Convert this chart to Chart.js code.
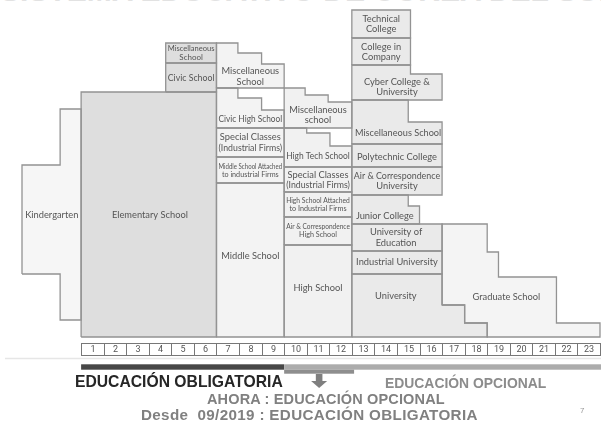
<!DOCTYPE html>
<html>
<head>
<meta charset="utf-8">
<script src="https://cdn.jsdelivr.net/npm/chart.js@4.4.1/dist/chart.umd.min.js"></script>
<style>
  body { margin: 0; background: #fff; }
  #wrap { position: relative; width: 601px; height: 423px; overflow: hidden; }
  canvas { position: absolute; left: 0; top: 0; }
  .cap { position: absolute; font-family: "Liberation Sans", Arial, sans-serif; font-weight: bold; white-space: nowrap; line-height: 1; }
</style>
</head>
<body>
<div id="wrap">
  <div class="cap" style="left:0;width:601px;text-align:center;top:-24px;font-size:30px;color:#e2e2e2">SISTEMA EDUCATIVO DE COREA DEL SUR</div>
  <canvas id="schoolChart" width="601" height="423"></canvas>
  <div class="cap" style="left:75px;top:374px;font-size:15.7px;color:#262626">EDUCACIÓN OBLIGATORIA</div>
  <div class="cap" style="left:385px;top:377px;font-size:13.9px;color:#8c8c8c">EDUCACIÓN OPCIONAL</div>
  <div class="cap" style="left:207px;top:392px;font-size:14.5px;letter-spacing:0.15px;color:#808080">AHORA : EDUCACIÓN OPCIONAL</div>
  <div class="cap" style="left:141px;top:406.5px;font-size:15.2px;letter-spacing:0.35px;color:#808080">Desde&nbsp; 09/2019 : EDUCACIÓN OBLIGATORIA</div>
  <div class="cap" style="left:580px;top:407px;font-size:8px;font-weight:normal;color:#999">7</div>
</div>
<script>
// school years shown in the bottom row
const grades = ['1', '2', '3', '4', '5', '6', '7', '8', '9', '10', '11', '12',
  '13', '14', '15', '16', '17', '18', '19', '20', '21', '22', '23'];

const schoolNames = [
  'Kindergarten', 'Elementary School', 'Miscellaneous\nSchool', 'Civic School',
  'Miscellaneous\nSchool', 'Civic High School', 'Special Classes\n(Industrial Firms)',
  'Middle School Attached\nto industrial Firms', 'Middle School',
  'Miscellaneous\nschool', 'High Tech School', 'Special Classes\n(Industrial Firms)',
  'High School Attached\nto Industrial Firms', 'Air & Correspondence\nHigh School', 'High School',
  'Technical\nCollege', 'College in\nCompany', 'Cyber College &\nUniversity',
  'Miscellaneous School', 'Polytechnic College', 'Air & Correspondence\nUniversity',
  'Junior College', 'University of\nEducation', 'Industrial University', 'University',
  'Graduate School'
];

const schoolStage = ['pre', 'elem', 'elem', 'elem',
  'mid', 'mid', 'mid', 'mid', 'mid',
  'high', 'high', 'high', 'high', 'high', 'high',
  'uni', 'uni', 'uni', 'uni', 'uni', 'uni', 'uni', 'uni', 'uni', 'uni',
  'grad'];

// outline of each block: [years after start of grade 1, height]
const schoolOutlines = [
  [[-2.62, 63], [-2.62, 172], [-0.93, 172], [-0.93, 228], [0, 228], [0, 17], [-0.93, 17], [-0.93, 63]],
  [[0, 0], [0, 245], [6, 245], [6, 0]],
  [[3.75, 274], [3.75, 294], [6, 294], [6, 274]],
  [[3.75, 245], [3.75, 274], [6, 274], [6, 245]],
  [[6, 249], [6, 294], [6.95, 294], [6.95, 284], [8, 284], [8, 273], [9, 273], [9, 249]],
  [[6, 209], [6, 249], [6.95, 249], [6.95, 239], [8, 239], [8, 227], [9, 227], [9, 209]],
  [[6, 180], [6, 209], [9, 209], [9, 180]],
  [[6, 154], [6, 180], [9, 180], [9, 154]],
  [[6, 0], [6, 154], [9, 154], [9, 0]],
  [[9, 209], [9, 249], [9.93, 249], [9.93, 242], [10.95, 242], [10.95, 235], [12, 235], [12, 209]],
  [[9, 170], [9, 209], [10, 209], [10, 204], [11.03, 204], [11.03, 191], [12, 191], [12, 170]],
  [[9, 145], [9, 170], [12, 170], [12, 145]],
  [[9, 120], [9, 145], [12, 145], [12, 120]],
  [[9, 92], [9, 120], [12, 120], [12, 92]],
  [[9, 0], [9, 92], [12, 92], [12, 0]],
  [[12, 299], [12, 327], [14.6, 327], [14.6, 299]],
  [[12, 272], [12, 299], [14.6, 299], [14.6, 272]],
  [[12, 237], [12, 272], [14.6, 272], [14.6, 263], [16, 263], [16, 237]],
  [[12, 193], [12, 237], [14.5, 237], [14.5, 215], [16, 215], [16, 193]],
  [[12, 170], [12, 193], [16, 193], [16, 170]],
  [[12, 142], [12, 170], [16, 170], [16, 142]],
  [[12, 113], [12, 142], [14.5, 142], [14.5, 131], [15, 131], [15, 113]],
  [[12, 86], [12, 113], [16, 113], [16, 86]],
  [[12, 63], [12, 86], [16, 86], [16, 63]],
  [[12, 0], [12, 63], [16, 63], [16, 32], [17, 32], [17, 14], [18, 14], [18, 0]],
  [[16, 32], [16, 113], [18, 113], [18, 85], [18.5, 85], [18.5, 60], [21.07, 60], [21.07, 14],
   [23, 14], [23, 0], [18, 0], [18, 14], [17, 14], [17, 32]]
];

// where each name sits inside its block
const labelAnchors = [
  [-1.3, 122], [3.05, 122], [4.875, 284], [4.875, 259.5],
  [7.5, 260.5], [7.5, 217.7], [7.5, 194.5], [7.5, 166], [7.5, 81],
  [10.5, 222], [10.5, 181.3], [10.5, 157], [10.5, 132], [10.5, 106.7], [10.5, 48.7],
  [13.3, 313], [13.3, 284.8], [14, 249.8], [14.05, 203.7], [14, 180.3], [14, 155.7],
  [13.46, 121], [13.96, 99.5], [14, 75.3], [13.95, 41],
  [18.85, 40.3]
];

// compulsory / optional spans under the year row
const compulsorySpan = [0, 9];
const optionalSpan = [9, 23];
const changedSpan = [9, 12.1];

const stageFill = { pre: '#f6f6f6', elem: '#dedede', mid: '#f3f3f3', high: '#f1f1f1', uni: '#eaeaea', grad: '#f4f4f4' };
const smallLabels = [7, 12, 13];

const blockLabels = {
  id: 'blockLabels',
  afterDatasetsDraw(chart) {
    const { ctx, scales: { x, y } } = chart;
    ctx.save();
    ctx.fillStyle = '#555';
    ctx.textAlign = 'center';
    ctx.textBaseline = 'middle';
    schoolNames.forEach((name, i) => {
      let size = 9.3;
      if (i === 2) size = 8;
      if (smallLabels.includes(i)) size = 7.2;
      ctx.font = size + 'px Lato';
      const xs = schoolOutlines[i].map(p => p[0]);
      const maxW = x.getPixelForValue(Math.max(...xs)) - x.getPixelForValue(Math.min(...xs)) - 4;
      const px = x.getPixelForValue(labelAnchors[i][0]);
      const py = y.getPixelForValue(labelAnchors[i][1]);
      const lines = name.split('\n');
      const lh = size * 1.1;
      lines.forEach((ln, k) => {
        ctx.fillText(ln, px, py + (k - (lines.length - 1) / 2) * lh, maxW);
      });
    });
    ctx.restore();
  }
};

const gradeRow = {
  id: 'gradeRow',
  afterDraw(chart) {
    const { ctx, scales: { x } } = chart;
    ctx.save();
    // faint rule under the year row
    ctx.strokeStyle = '#e6e6e6';
    ctx.lineWidth = 1.5;
    ctx.beginPath();
    ctx.moveTo(5, 358.5);
    ctx.lineTo(601, 358.5);
    ctx.stroke();

    ctx.strokeStyle = '#777';
    ctx.lineWidth = 1;
    ctx.fillStyle = '#555';
    ctx.font = '9px Roboto';
    ctx.textAlign = 'center';
    ctx.textBaseline = 'middle';
    grades.forEach((g, i) => {
      const l = Math.round(x.getPixelForValue(i)) + 0.5;
      const r = Math.round(x.getPixelForValue(i + 1)) + 0.5;
      ctx.strokeRect(l, 343.5, r - l, 12);
      ctx.fillText(g, (l + r) / 2, 350);
    });

    // bars
    ctx.fillStyle = '#474747';
    ctx.fillRect(x.getPixelForValue(compulsorySpan[0]), 364.3,
      x.getPixelForValue(compulsorySpan[1]) - x.getPixelForValue(compulsorySpan[0]), 5.4);
    ctx.fillStyle = '#acacac';
    ctx.fillRect(x.getPixelForValue(optionalSpan[0]), 364.3,
      x.getPixelForValue(optionalSpan[1]) - x.getPixelForValue(optionalSpan[0]) + 1, 5.4);
    ctx.fillStyle = '#8e8e8e';
    ctx.fillRect(x.getPixelForValue(changedSpan[0]), 369.7,
      x.getPixelForValue(changedSpan[1]) - x.getPixelForValue(changedSpan[0]), 4);

    // arrow
    const ax = x.getPixelForValue((changedSpan[0] + changedSpan[1]) / 2);
    ctx.fillStyle = '#7f7f7f';
    ctx.fillRect(ax - 3.3, 374, 6.6, 7.5);
    ctx.beginPath();
    ctx.moveTo(ax - 8, 381);
    ctx.lineTo(ax + 8, 381);
    ctx.lineTo(ax, 388);
    ctx.closePath();
    ctx.fill();
    ctx.restore();
  }
};

const datasets = schoolOutlines.map((outline, i) => ({
  label: schoolNames[i],
  data: outline.concat([outline[0]]).map(p => ({ x: p[0], y: p[1] })),
  fill: 'shape',
  backgroundColor: stageFill[schoolStage[i]],
  borderColor: '#939393',
  borderWidth: 1.3,
  pointRadius: 0,
  tension: 0,
  clip: false
}));

new Chart(document.getElementById('schoolChart'), {
  type: 'line',
  data: { datasets: datasets },
  options: {
    responsive: false,
    animation: false,
    layout: { padding: { left: 22, right: 1, top: 5, bottom: 86 } },
    elements: { line: { borderJoinStyle: 'miter' } },
    scales: {
      x: { type: 'linear', min: -2.62, max: 23, display: false },
      y: { min: 0, max: 332, display: false }
    },
    plugins: {
      legend: { display: false },
      tooltip: { enabled: false },
      filler: { drawTime: 'beforeDatasetsDraw' }
    }
  },
  plugins: [blockLabels, gradeRow]
});
</script>
</body>
</html>
